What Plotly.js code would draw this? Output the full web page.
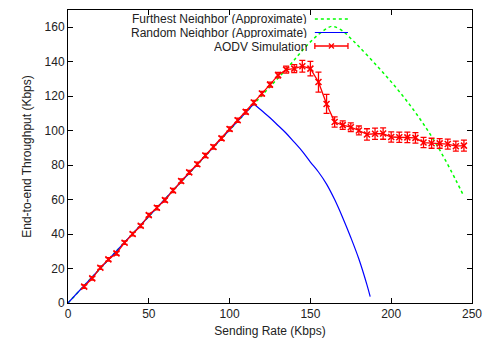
<!DOCTYPE html>
<html>
<head>
<meta charset="utf-8">
<script src="https://cdn.plot.ly/plotly-3.0.1.min.js"></script>
<style>html,body{margin:0;padding:0;background:#fff;}#chart{width:483px;height:348px;}</style>
</head>
<body>
<div id="chart"></div>
<script>
// Furthest Neighbor (Approximate): straight rise, then curved part
const furthestRiseX = [0, 135];
const furthestRiseY = [0, 135.5];
const furthestCurveX = [135, 140, 145, 150, 155, 160, 163, 165, 170, 175, 180, 190, 200, 210, 220, 230, 240, 245];
const furthestCurveY = [135.5, 141, 146.5, 151.5, 155.8, 159.2, 160.5, 160.3, 157.8, 153.5, 148.8, 138.8, 128.3, 116.8, 103.8, 88.8, 71.3, 61.8];

// Random Neighbor (Approximate): straight rise, then curved fall
const randomRiseX = [0, 115];
const randomRiseY = [0, 115.5];
const randomCurveX = [115, 120, 125, 130, 135, 140, 145, 150, 155, 160, 165, 170, 175, 180, 185, 187];
const randomCurveY = [115.5, 111.5, 107.5, 103, 98.5, 93.3, 88, 81.8, 76, 69, 60, 49.5, 38, 25.5, 10.5, 3.7];

// AODV Simulation
const aodvX = [10, 15, 20, 25, 30, 35, 40, 45, 50, 55, 60, 65, 70, 75, 80, 85, 90, 95, 100, 105,
               110, 115, 120, 125, 130, 135, 140, 145, 150, 155, 160, 165, 170, 175, 180, 185, 190,
               195, 200, 205, 210, 215, 220, 225, 230, 235, 240, 245];
const aodvY = [9.5, 14.3, 20.5, 25.3, 28.8, 35, 40, 44.8, 51, 55.3, 59.7, 65.3, 70.8, 75.8, 80.5, 85.6, 90.5, 95.5, 101, 106,
               110.9, 116.3, 121.5, 126.7, 132.2, 135.4, 136, 137.4, 136, 128.2, 115.5, 105, 103.2, 102, 100.1, 97.8, 98.2,
               98.3, 96.3, 96.2, 96.1, 95.8, 93.1, 92.7, 92.6, 92.2, 91, 91.3];
const aodvErr = [1, 1, 1, 1, 1, 1, 1, 1, 1, 1.2, 1.2, 1.2, 1.2, 1.2, 1.2, 1.2, 1.2, 1.2, 1.2, 1.2,
                 1.3, 1.3, 1.3, 1.5, 1.6, 2, 2.3, 3.4, 4.2, 5.8, 5.5, 3, 2.5, 2.5, 2.6, 3.3, 3.3,
                 3.3, 3, 3, 3, 3, 3, 2.9, 2.8, 2.9, 2.9, 3.2];

const legendNames = ["Furthest Neighbor (Approximate)", "Random Neighbor (Approximate)", "AODV Simulation"];
const xTicks = [0, 50, 100, 150, 200, 250];
const yTicks = [0, 20, 40, 60, 80, 100, 120, 140, 160];

const GREEN = '#00ff00', BLUE = '#0000ff', RED = '#ff0000';

const traces = [
  {x: furthestRiseX, y: furthestRiseY, mode: 'lines', name: legendNames[0],
   line: {color: GREEN, width: 1.5, dash: 'dot'}},
  {x: furthestCurveX, y: furthestCurveY, mode: 'lines', name: legendNames[0],
   line: {color: GREEN, width: 1.5, dash: 'dot', shape: 'spline', smoothing: 1}},
  {x: randomRiseX, y: randomRiseY, mode: 'lines', name: legendNames[1],
   line: {color: BLUE, width: 1.2}},
  {x: randomCurveX, y: randomCurveY, mode: 'lines', name: legendNames[1],
   line: {color: BLUE, width: 1.2, shape: 'spline', smoothing: 1}},
  {x: aodvX, y: aodvY, mode: 'lines+markers', name: legendNames[2],
   line: {color: RED, width: 1.3},
   marker: {symbol: 'x-thin', size: 6, color: RED, line: {color: RED, width: 1.5}},
   error_y: {type: 'data', array: aodvErr, visible: true, color: RED, thickness: 1.3, width: 3}}
];

// legend drawn gnuplot-style: right-aligned text, sample on the right
const rowY = [0.9693, 0.9232, 0.8771];
const txtX = 0.594, s0 = 0.611, s1 = 0.693, sm = (s0 + s1) / 2;
const annotations = legendNames.map((t, i) => ({
  xref: 'paper', yref: 'paper', x: txtX, y: rowY[i], text: t, showarrow: false,
  xanchor: 'right', yanchor: 'middle', borderpad: 0, height: 11,
  font: {size: 12, color: '#222'}
}));
const dx = 2.5 / 404, dy = 2.5 / 293, cy = 3 / 293;
const shapes = [
  {type: 'line', xref: 'paper', yref: 'paper', x0: s0, x1: s1, y0: rowY[0], y1: rowY[0], line: {color: GREEN, width: 1.5, dash: 'dot'}},
  {type: 'line', xref: 'paper', yref: 'paper', x0: s0, x1: s1, y0: rowY[1], y1: rowY[1], line: {color: BLUE, width: 1.2}},
  {type: 'line', xref: 'paper', yref: 'paper', x0: s0, x1: s1, y0: rowY[2], y1: rowY[2], line: {color: RED, width: 1.3}},
  {type: 'line', xref: 'paper', yref: 'paper', x0: s0, x1: s0, y0: rowY[2] - cy, y1: rowY[2] + cy, line: {color: RED, width: 1.3}},
  {type: 'line', xref: 'paper', yref: 'paper', x0: s1, x1: s1, y0: rowY[2] - cy, y1: rowY[2] + cy, line: {color: RED, width: 1.3}},
  {type: 'line', xref: 'paper', yref: 'paper', x0: sm - dx, x1: sm + dx, y0: rowY[2] - dy, y1: rowY[2] + dy, line: {color: RED, width: 1.3}},
  {type: 'line', xref: 'paper', yref: 'paper', x0: sm - dx, x1: sm + dx, y0: rowY[2] + dy, y1: rowY[2] - dy, line: {color: RED, width: 1.3}}
];

const axisCommon = {
  showgrid: false, zeroline: false, showline: true, mirror: 'allticks',
  linecolor: '#000', linewidth: 1, ticks: 'inside', ticklen: 5, tickcolor: '#000', tickwidth: 1,
  tickfont: {size: 12, color: '#222'}
};

const layout = {
  width: 483, height: 348,
  margin: {l: 68, r: 11, t: 10, b: 45},
  paper_bgcolor: '#fff', plot_bgcolor: '#fff',
  font: {family: 'Liberation Sans, Arial, sans-serif', size: 12, color: '#222'},
  showlegend: false,
  xaxis: Object.assign({}, axisCommon, {range: [0, 250], tickvals: xTicks, ticktext: xTicks.map(String),
    title: {text: 'Sending Rate (Kbps)', font: {size: 12, color: '#222'}, standoff: 6}}),
  yaxis: Object.assign({}, axisCommon, {range: [0, 170], tickvals: yTicks, ticktext: yTicks.map(String),
    title: {text: 'End-to-end Throughput (Kbps)', font: {size: 12, color: '#222'}, standoff: 10}}),
  annotations: annotations,
  shapes: shapes
};

Plotly.newPlot('chart', traces, layout, {displayModeBar: false, staticPlot: true});
</script>
</body>
</html>
